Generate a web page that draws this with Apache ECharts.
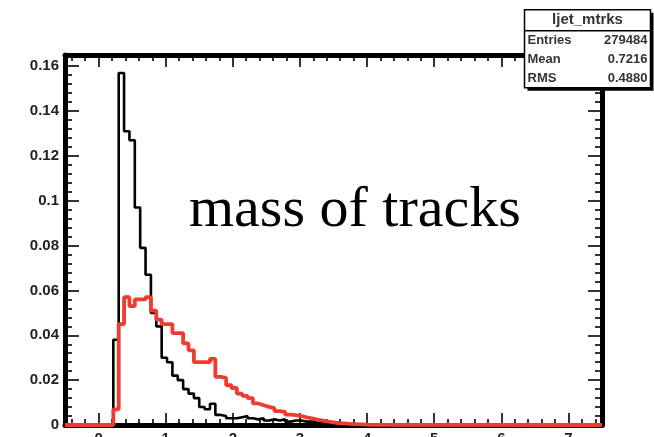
<!DOCTYPE html>
<html>
<head>
<meta charset="utf-8">
<script src="https://cdn.jsdelivr.net/npm/echarts@6/dist/echarts.min.js"></script>
<style>
  html, body { margin: 0; padding: 0; background: #fff; overflow: hidden; }
  #chart { width: 654px; height: 437px; }
</style>
</head>
<body>
<div id="chart"></div>
<script>
// ---- data ----
const X_MIN = -0.5;
const X_MAX = 7.5;
const BIN_WIDTH = 0.08;
const FIRST_BIN_EDGE = 0.14;   // lower edge of first listed bin
// black histogram, one value per bin starting at FIRST_BIN_EDGE
const blackValues = [
  0, 0.038, 0.157, 0.131, 0.127, 0.097, 0.079, 0.067, 0.050, 0.044,
  0.030, 0.028, 0.022, 0.020, 0.016, 0.014, 0.012, 0.008, 0.007, 0.0095,
  0.0045, 0.004, 0.003, 0.003, 0.0035, 0.004, 0.003, 0.0025, 0.003, 0.002,
  0.0025, 0.002, 0.0025, 0.0015, 0.002, 0.002, 0.0015, 0.0015, 0.001, 0.001,
  0.001, 0.0008, 0.0006, 0.0005, 0.0004, 0.0003, 0.0002, 0.0001, 0
];
// red histogram, same binning
const redValues = [
  0, 0.007, 0.045, 0.057, 0.053, 0.056, 0.056, 0.057, 0.051, 0.047,
  0.045, 0.045, 0.041, 0.041, 0.0364, 0.0333, 0.028, 0.028, 0.028, 0.0295,
  0.0215, 0.021, 0.0178, 0.0165, 0.014, 0.013, 0.012, 0.0096, 0.0088, 0.0081,
  0.0075, 0.0062, 0.0058, 0.0046, 0.0044, 0.004, 0.0034, 0.003, 0.0024, 0.002,
  0.0015, 0.0012, 0.0008, 0.0007, 0.0005, 0.0004, 0.0003, 0.0002, 0.0001
];
const xMajorTicks = [0, 1, 2, 3, 4, 5, 6, 7];
const yMajorTicks = [0, 0.02, 0.04, 0.06, 0.08, 0.1, 0.12, 0.14, 0.16];
const Y_MAX = 0.165;
const statsTitle = 'ljet_mtrks';
const statsRows = [['Entries', '279484'], ['Mean', '0.7216'], ['RMS', '0.4880']];
const plotLabel = 'mass of tracks';

// ---- helpers ----
function outline(vals) {
  const pts = [[X_MIN, 0]];
  vals.forEach((v, i) => pts.push([+(FIRST_BIN_EDGE + i * BIN_WIDTH).toFixed(4), v]));
  pts.push([+(FIRST_BIN_EDGE + vals.length * BIN_WIDTH).toFixed(4), 0]);
  pts.push([X_MAX, 0]);
  return pts;
}
function minors(lo, hi, step, majors) {
  const out = [];
  const n = Math.round((hi - lo) / step);
  for (let i = 0; i <= n; i++) {
    const v = +(lo + i * step).toFixed(5);
    if (!majors.some(m => Math.abs(m - v) < 1e-9)) out.push(v);
  }
  return out;
}
const xMinor = minors(-0.4, 7.4, 0.2, xMajorTicks);
const yMinor = minors(0, 0.164, 0.004, yMajorTicks);

const FRAME = { color: '#000', width: 5 };
const labelFont = { fontFamily: 'Liberation Sans', fontWeight: 'bold', fontSize: 15, color: '#222' };

function xAxisDef(pos, ticks, len, showLabel, showLine) {
  return {
    type: 'value', min: X_MIN, max: X_MAX, position: pos,
    axisLine: { show: showLine, onZero: false, lineStyle: FRAME },
    axisTick: { show: true, inside: true, length: len, customValues: ticks, lineStyle: { color: '#000', width: 1.6 } },
    axisLabel: Object.assign({ show: showLabel, customValues: ticks, margin: 6 }, labelFont),
    splitLine: { show: false }
  };
}
function yAxisDef(pos, ticks, len, showLabel, showLine) {
  return {
    type: 'value', min: 0, max: Y_MAX, position: pos,
    axisLine: { show: showLine, onZero: false, lineStyle: FRAME },
    axisTick: { show: true, inside: true, length: len, customValues: ticks, lineStyle: { color: '#000', width: 1.6 } },
    axisLabel: Object.assign({ show: showLabel, customValues: ticks, margin: 6 }, labelFont),
    splitLine: { show: false }
  };
}

const TXT = { fill: '#333', verticalAlign: 'middle' };
const statsChildren = [
  { type: 'rect', z: 20, shape: { x: 3, y: 3, width: 126, height: 78 }, style: { fill: '#000' } },
  { type: 'rect', z: 21, shape: { x: 0, y: 0, width: 126, height: 78 }, style: { fill: '#fff', stroke: '#000', lineWidth: 1.5 } },
  { type: 'line', z: 22, shape: { x1: 0, y1: 21, x2: 126, y2: 21 }, style: { stroke: '#000', lineWidth: 1.5 } },
  { type: 'text', z: 22, x: 63, y: 10, style: Object.assign({ text: statsTitle, font: 'bold 15px "Liberation Sans"', align: 'center' }, TXT) }
];
statsRows.forEach((r, i) => {
  statsChildren.push({ type: 'text', z: 22, x: 3, y: 31 + i * 19, style: Object.assign({ text: r[0], font: 'bold 13px "Liberation Sans"', align: 'left' }, TXT) });
  statsChildren.push({ type: 'text', z: 22, x: 123, y: 31 + i * 19, style: Object.assign({ text: r[1], font: 'bold 13px "Liberation Sans"', align: 'right' }, TXT) });
});

const chart = echarts.init(document.getElementById('chart'), null, { renderer: 'canvas' });
chart.setOption({
  animation: false,
  backgroundColor: '#fff',
  grid: { left: 65, right: 52, top: 55, bottom: 12, containLabel: false, outerBoundsMode: 'none' },
  xAxis: [
    xAxisDef('bottom', xMajorTicks, 12, true, true),
    xAxisDef('bottom', xMinor, 6, false, false),
    xAxisDef('top', xMajorTicks, 12, false, true),
    xAxisDef('top', xMinor, 6, false, false)
  ],
  yAxis: [
    yAxisDef('left', yMajorTicks, 14, true, true),
    yAxisDef('left', yMinor, 7, false, false),
    yAxisDef('right', yMajorTicks, 14, false, true),
    yAxisDef('right', yMinor, 7, false, false)
  ],
  series: [
    {
      type: 'line', name: 'black', step: 'end', data: outline(blackValues),
      xAxisIndex: 0, yAxisIndex: 0, symbol: 'none', clip: false,
      lineStyle: { color: '#000', width: 2.6 }, z: 3
    },
    {
      type: 'line', name: 'red', step: 'end', data: outline(redValues),
      xAxisIndex: 0, yAxisIndex: 0, symbol: 'none', clip: false,
      lineStyle: { color: '#f03c2e', width: 3.8 }, z: 4
    }
  ],
  graphic: [
    {
      type: 'text', left: 189, top: 182, z: 10,
      style: { text: plotLabel, font: '58px "Liberation Serif"', fill: '#000' }
    },
    {
      type: 'group', left: 522, top: 9, z: 20,
      children: statsChildren
    }
  ]
});
</script>
</body>
</html>
